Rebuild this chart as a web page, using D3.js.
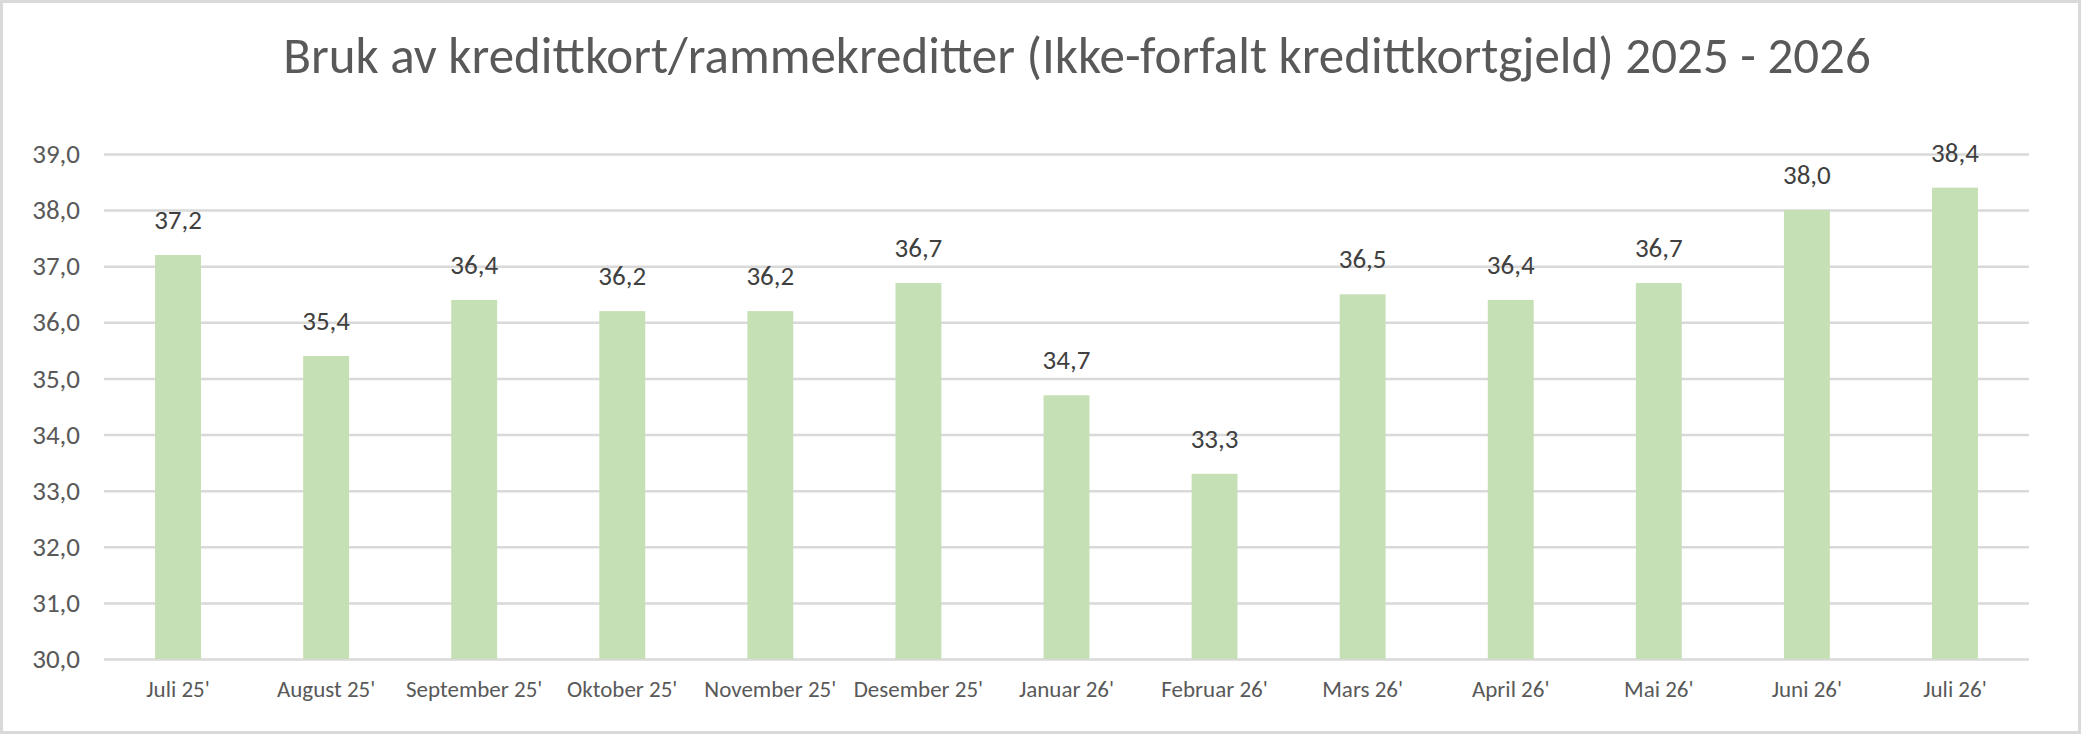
<!DOCTYPE html>
<html>
<head>
<meta charset="utf-8">
<script src="https://cdn.jsdelivr.net/npm/d3@7"></script>
<style>
  body { margin: 0; background: #fff; }
  text { font-family: Calibri, Carlito, Lato, sans-serif; }
</style>
</head>
<body>
<div id="chart-area"></div>
<script>
// data
var months = ["Juli 25'", "August 25'", "September 25'", "Oktober 25'", "November 25'", "Desember 25'",
  "Januar 26'", "Februar 26'", "Mars 26'", "April 26'", "Mai 26'", "Juni 26'", "Juli 26'"];
var values = [37.2, 35.4, 36.4, 36.2, 36.2, 36.7, 34.7, 33.3, 36.5, 36.4, 36.7, 38.0, 38.4];
var yTicks = [30, 31, 32, 33, 34, 35, 36, 37, 38, 39];
var title = "Bruk av kredittkort/rammekreditter (Ikke-forfalt kredittkortgjeld) 2025 - 2026";

var W = 2082, H = 734;
var margin = {top: 154, right: 53, bottom: 75, left: 104};
var width = W - margin.left - margin.right,
    height = H - margin.top - margin.bottom;

var fmt = (d) => { return d3.format(".1f")(d).replace(".", ","); };

var svg = d3.select("#chart-area")
  .append("svg")
    .attr("width", W)
    .attr("height", H);

// chart border
svg.append("rect")
  .attr("x", 1.5).attr("y", 1.5)
  .attr("width", W - 4).attr("height", H - 3)
  .attr("fill", "#fff")
  .attr("stroke", "#d9d9d9")
  .attr("stroke-width", 3);

// title
svg.append("text")
  .attr("x", 1077)
  .attr("y", 73)
  .attr("text-anchor", "middle")
  .attr("font-size", "51px")
  .style("fill", "#595959")
  .text(title);

var g = svg.append("g")
  .attr("transform", "translate(" + margin.left + ", " + margin.top + ")");

// scales
var x = d3.scaleBand().domain(months).range([0, width]).paddingInner(0.69).paddingOuter(0.345);
var y = d3.scaleLinear().domain([30, 39]).range([height, 0]);

// y axis + gridlines
var yAxisCall = d3.axisLeft(y)
  .tickValues(yTicks)
  .tickSize(-width)
  .tickPadding(24)
  .tickFormat(fmt);

var yAxisGroup = g.append("g").attr("class", "y-axis").call(yAxisCall);
yAxisGroup.select(".domain").remove();
yAxisGroup.selectAll("line")
  .attr("stroke", "#d9d9d9")
  .attr("stroke-width", 2.5);
yAxisGroup.selectAll("text")
  .attr("font-size", "27px")
  .style("fill", "#595959");

// bars
g.selectAll("rect.bar").data(values)
  .enter().append("rect")
    .attr("class", "bar")
    .attr("x", (d, i) => { return x(months[i]); })
    .attr("y", (d) => { return y(d); })
    .attr("width", x.bandwidth())
    .attr("height", (d) => { return height - y(d); })
    .attr("fill", "#c5e0b4");

// value labels
g.selectAll("text.val").data(values)
  .enter().append("text")
    .attr("class", "val")
    .attr("x", (d, i) => { return x(months[i]) + x.bandwidth() / 2; })
    .attr("y", (d) => { return y(d) - 26; })
    .attr("text-anchor", "middle")
    .attr("font-size", "27px")
    .style("fill", "#404040")
    .text(fmt);

// x axis
var xAxisCall = d3.axisBottom(x).tickSize(0);
var xAxisGroup = g.append("g").attr("class", "x axis")
  .attr("transform", "translate(0, " + height + ")")
  .call(xAxisCall);
xAxisGroup.select(".domain").remove();
xAxisGroup.selectAll("text")
  .attr("y", 38)
  .attr("dy", 0)
  .attr("font-size", "23px")
  .style("fill", "#595959");
</script>
</body>
</html>
